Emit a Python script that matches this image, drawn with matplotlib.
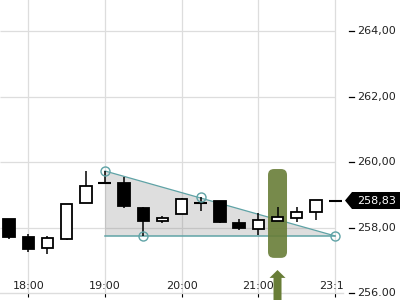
import matplotlib
matplotlib.use("Agg")
import matplotlib.pyplot as plt
from matplotlib.patches import Rectangle, FancyBboxPatch, Polygon
from matplotlib.transforms import blended_transform_factory
from matplotlib.lines import Line2D

# ---- data ----
opens  = [258.27, 257.71, 257.38, 257.67, 258.75, 259.35, 259.37, 258.60, 258.20,
          258.41, 258.75, 258.80, 258.15, 257.95, 258.22, 258.29, 258.48, 258.83]
highs  = [258.27, 257.81, 257.74, 258.72, 259.73, 259.73, 259.56, 258.63, 258.36,
          258.91, 258.93, 258.82, 258.27, 258.46, 258.64, 258.63, 258.84, 258.83]
lows   = [257.66, 257.27, 257.21, 257.64, 258.75, 259.35, 258.59, 257.75, 258.14,
          258.41, 258.52, 258.14, 257.94, 257.79, 258.22, 258.18, 258.23, 258.83]
closes = [257.73, 257.34, 257.68, 258.72, 259.27, 259.35, 258.65, 258.22, 258.31,
          258.87, 258.75, 258.16, 257.98, 258.23, 258.32, 258.49, 258.84, 258.83]

xtick_pos = [1, 5, 9, 13, 17]
xtick_labels = ["18:00", "19:00", "20:00", "21:00", "23:15"]
ytick_vals = [256, 258, 260, 262, 264]
ytick_labels = ["256.00", "258,00", "260,00", "262,00", "264,00"]

# triangle pattern points (index, price)
tri_upper = [(5, 259.73), (17, 257.75)]
tri_lower_y = 257.75
tri_points = [(5, 259.73), (7, 257.75), (10, 258.95), (17, 257.75)]
last_price = 258.83
last_label = "258,83"
signal_index = 14
signal_range = (257.08, 259.79)

# ---- figure ----
W, H = 400, 300
fig = plt.figure(figsize=(4, 3), dpi=100)
fig.patch.set_facecolor("white")
ax_left, ax_right = 0 / W, 343 / W
ax_bottom = (H - 293.3) / H
ax = fig.add_axes([ax_left, ax_bottom, ax_right - ax_left, 1 - ax_bottom])
ax.set_xlim(-0.476, 17.416)
ax.set_ylim(256, 264.945)

for s in ["top", "right", "left"]:
    ax.spines[s].set_visible(False)
ax.spines["bottom"].set_color("#dddddd")
ax.spines["bottom"].set_linewidth(1)
ax.set_yticks([])
ax.set_xticks(xtick_pos)
ax.set_xticklabels([])
ax.tick_params(axis="x", direction="out", length=3, width=0.8, color="black")

grid_c = "#dddddd"
for xp in xtick_pos:
    ax.axvline(xp, color=grid_c, lw=0.9, zorder=0)
for yv in ytick_vals[1:]:
    ax.hlines(yv, -0.476, 17, color=grid_c, lw=0.9, zorder=0)

# x labels (clipped at axes edge)
for xp, lab in zip(xtick_pos, xtick_labels):
    ax.text(xp, 256.21, lab, ha="center", va="center", fontsize=8,
            color="#222222", clip_on=True, zorder=5)

# triangle shading
teal = "#5fa3a6"
xs_tri = [tri_upper[0][0], tri_upper[1][0], tri_upper[0][0]]
ys_tri = [tri_upper[0][1], tri_upper[1][1], tri_lower_y]
ax.add_patch(Polygon(list(zip(xs_tri, ys_tri)), closed=True, facecolor="#808080",
                     alpha=0.26, edgecolor="none", zorder=1))
ax.plot([tri_upper[0][0], tri_upper[1][0]], [tri_upper[0][1], tri_upper[1][1]],
        color=teal, lw=0.9, zorder=2)
ax.plot([tri_upper[0][0], tri_upper[1][0]], [tri_lower_y, tri_lower_y],
        color=teal, lw=1.1, zorder=2)

# signal highlight bar
px_x = 1 / 19.17
px_y = 1 / 32.79
bw = 19 * px_x
ax.add_patch(FancyBboxPatch((signal_index - bw / 2, signal_range[0]), bw,
                            signal_range[1] - signal_range[0],
                            boxstyle="round,pad=0,rounding_size=%f" % (6 * px_x),
                            mutation_aspect=px_y / px_x,
                            facecolor="#687d37", edgecolor="none", alpha=0.9, zorder=3))

# arrow
cx = signal_index
arrow = [(cx, 256.71), (cx + 8 * px_x, 256.47), (cx + 4 * px_x, 256.47),
         (cx + 4 * px_x, 255.7), (cx - 4 * px_x, 255.7), (cx - 4 * px_x, 256.47),
         (cx - 8 * px_x, 256.47)]
ax.add_patch(Polygon(arrow, closed=True, facecolor="#687d37", edgecolor="none",
                     clip_on=False, zorder=4))

# candles
body_w = 0.6
for i, (o, h, l, c) in enumerate(zip(opens, highs, lows, closes)):
    top, bot = max(o, c), min(o, c)
    if h > top:
        ax.plot([i, i], [top, h], color="black", lw=1.1, zorder=6, solid_capstyle="butt")
    if l < bot:
        ax.plot([i, i], [l, bot], color="black", lw=1.1, zorder=6, solid_capstyle="butt")
    if abs(o - c) < 1e-9:
        ax.plot([i - 0.34, i + 0.34], [o, o], color="black", lw=1.5, zorder=7,
                solid_capstyle="butt")
    else:
        fc = "black" if c < o else "white"
        ax.add_patch(Rectangle((i - body_w / 2, bot), body_w, top - bot,
                               facecolor=fc, edgecolor="black", lw=1.3, zorder=7))

# circles on pattern points
ax.plot([p[0] for p in tri_points], [p[1] for p in tri_points], "o", ms=6.5,
        mfc="none", mec=teal, mew=1.0, zorder=8, clip_on=False)

# y labels on the right
tr = blended_transform_factory(fig.transFigure, ax.transData)
for yv, lab in zip(ytick_vals, ytick_labels):
    fig.add_artist(Line2D([349 / W, 354 / W], [yv, yv], transform=tr, color="black", lw=0.9))
    fig.text(357 / W, yv, lab, transform=tr, ha="left", va="center", fontsize=8,
             color="#222222")

# last price tag
yc = last_price
hh = 8.5 * px_y
tag = [(345 / W, yc), (352 / W, yc + hh), (1.0, yc + hh), (1.0, yc - hh), (352 / W, yc - hh)]
fig.add_artist(Polygon(tag, closed=True, transform=tr, facecolor="black", edgecolor="none"))
fig.text(357 / W, yc, last_label, transform=tr, ha="left", va="center", fontsize=8,
         color="white")

fig.savefig("out.png", dpi=100, facecolor="white")
